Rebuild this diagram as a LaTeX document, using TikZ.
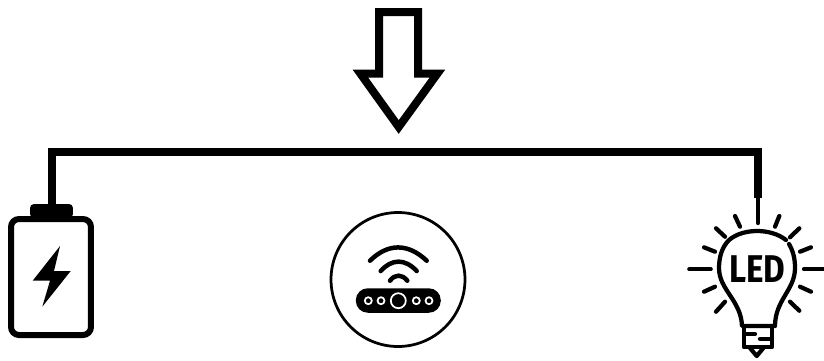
\documentclass[tikz,border=0pt]{standalone}
\usepackage{fontspec}
\usepackage{tikz}
\usetikzlibrary{positioning, arrows.meta}
\newfontfamily\ledfont{Fira Sans}
\tikzset{
  wire/.style={line width=0.16cm, line join=miter},
  thinline/.style={line width=0.085cm, line cap=round, line join=round},
  ray/.style={line width=0.085cm, line cap=round},
  wifi/.style={line width=0.09cm, line cap=round},
  lamp/.style={circle, draw=white, fill=black, line width=0.035cm, inner sep=0pt}
}
\begin{document}
\begin{tikzpicture}[x=0.02cm, y=-0.02cm]
    \useasboundingbox (0,0) rectangle (824,360);

    % Big arrow
    \draw[line width=0.16cm, miter limit=10] (379,12) -- (418,12) -- (418,73.5) -- (437.5,73.5) -- (398.7,127) -- (360.3,73.5) -- (379,73.5) -- cycle;

    % Battery side
    \node (battery) at (51,277) [draw, rounded corners=0.16cm, rectangle, line width=0.12cm, minimum width=1.6cm, minimum height=2.32cm, inner sep=0pt] {};
    \node (batterycap) at (51.5,211) [fill=black, rounded corners=0.08cm, rectangle, minimum width=0.86cm, minimum height=0.28cm, inner sep=0pt] {};
    \fill (60,246) -- (32.7,280.7) -- (50,280.7) -- (42.3,306.7) -- (70.7,271) -- (54,271) -- cycle;

    % Router
    \node (router) at (398,279.5) [draw, circle, line width=0.055cm, minimum size=2.68cm, inner sep=0pt] {};
    \node (routerbody) at (398.3,300.5) [fill=black, rounded corners=0.24cm, rectangle, minimum width=1.7cm, minimum height=0.49cm, inner sep=0pt] {};
    \foreach \x in {368.3, 381, 416.3, 429}
        \node at (\x,300.7) [lamp, minimum size=0.14cm] {};
    \node at (398.3,300.7) [lamp, minimum size=0.3cm] {};
    \draw[wifi] (370,260.7) .. controls (388,243) and (408,243) .. (426.7,260.7);
    \draw[wifi] (380.7,271) .. controls (392,258.5) and (405,258.5) .. (416.7,271);
    \draw[wifi] (390,280.7) .. controls (395,274) and (402,274) .. (407.3,280.7);

    % LED side
    \node (led) at (757.5,269) [font=\ledfont\bfseries\fontsize{22}{22}\selectfont, xscale=0.86, inner sep=0pt] {LED};
    \draw[thinline] (786,240) .. controls (771,228) and (743,228) .. (729,240) .. controls (722,247) and (719,257) .. (719,268) .. controls (719,290) and (741,300) .. (742,326) -- (775,326) .. controls (775,300) and (795,290) .. (795,268) .. controls (795,258) and (793,251) .. (789,244);
    \draw[thinline] (744,326) -- (744,347) -- (772,347) -- (772,326);
    \draw[thinline] (745,334) -- (755,334);
    \draw[thinline] (760,339) -- (771,339);
    \draw[thinline] (750,348) -- (756.7,356) -- (763.3,348);
    \foreach \xa/\ya/\xb/\yb in {735/216/740/226.7, 779.3/216/775/226.7, 716/228.3/725/236.7, 799.3/228.3/790/237.3, 704/247.3/715/251.7, 811/247.3/800/251.7, 689.3/269.3/710.7/269.3, 804/269.3/823.3/269.3, 704/291.7/715/286.7, 811/291.7/800/286.7, 716/311.7/725/301.7, 799.3/310.7/790/301.7}
        \draw[ray] (\xa,\ya) -- (\xb,\yb);

    % Wire
    \coordinate (wiretop) at (400,152);
    \coordinate (ledstem) at (758,198);
    \coordinate (ledray) at (758,223);
    \draw[wire] (batterycap.north) |- (wiretop) -| (ledstem);
    \draw[thinline] (ledstem) -- (ledray);
\end{tikzpicture}
\end{document}
